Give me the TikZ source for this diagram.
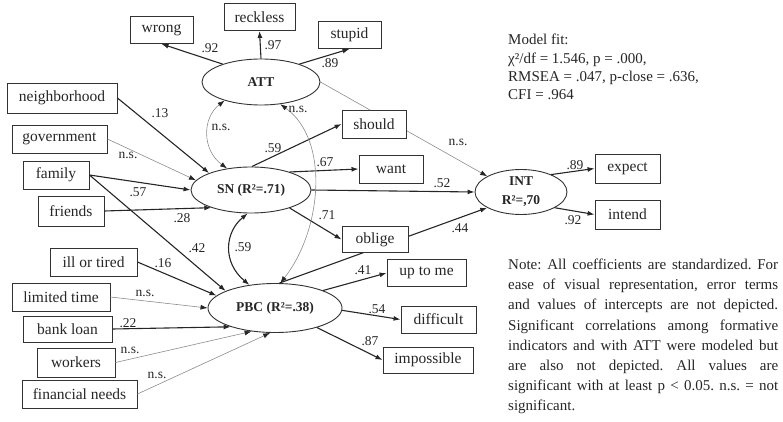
\documentclass[tikz,border=0pt]{standalone}
\usepackage{fontspec}
\setmainfont{Liberation Serif}
\usetikzlibrary{shapes.geometric, arrows.meta, backgrounds}
\frenchspacing

\begin{document}
\begin{tikzpicture}[x=1pt, y=-1pt,
    every node/.style={text=black!85},
    box/.style={rectangle, draw=black!80, fill=white, line width=0.9pt, minimum height=27pt, inner sep=0pt, font=\fontsize{15.5}{17}\selectfont},
    latent/.style={ellipse, draw=black!80, fill=white, line width=0.9pt, inner sep=0pt, align=center, font=\bfseries\fontsize{13.5}{19}\selectfont},
    coef/.style={inner sep=0pt, font=\fontsize{13.5}{15}\selectfont},
    note/.style={inner sep=0pt, font=\fontsize{15}{20.1}\selectfont},
    sig/.style={draw=black!85, line width=1.1pt, -{Latex[length=7pt, width=5pt]}},
    ns/.style={draw=black!45, line width=0.6pt, -{Latex[length=7pt, width=5pt, color=black!85]}},
    sigcorr/.style={draw=black!85, line width=1.1pt, {Latex[length=7pt, width=5pt]}-{Latex[length=7pt, width=5pt]}},
    nscorr/.style={draw=black!45, line width=0.6pt, {Latex[length=7pt, width=5pt, color=black!85]}-{Latex[length=7pt, width=5pt, color=black!85]}}]
    \useasboundingbox (0,0) rectangle (783,422);

    \node (ATT) [latent, minimum width=118pt, minimum height=46pt] at (261,82) {ATT};
    \node (SN) [latent, minimum width=120pt, minimum height=46pt] at (251,190) {SN (R²=.71)};
    \node (PBC) [latent, minimum width=134pt, minimum height=49pt] at (275,308) {PBC (R²=.38)};
    \node (INT) [latent, minimum width=92pt, minimum height=45pt] at (521,192) {INT\\R²=,70};

    \node (wrong) [box, minimum width=63pt] at (161.5,30) {wrong};
    \node (reckless) [box, minimum width=71pt] at (259.5,17) {reckless};
    \node (stupid) [box, minimum width=63pt] at (349.5,35) {stupid};
    \node (neighborhood) [box, minimum width=110pt, minimum height=30pt] at (62,98) {neighborhood};
    \node (government) [box, minimum width=95pt, minimum height=28pt] at (59.5,139) {government};
    \node (family) [box, minimum width=66pt, minimum height=28pt] at (56,175) {family};
    \node (friends) [box, minimum width=66pt, minimum height=30pt] at (71,211) {friends};
    \node (should) [box, minimum width=64pt, minimum height=28pt] at (374,124) {should};
    \node (want) [box, minimum width=64pt, minimum height=28pt] at (391,169) {want};
    \node (oblige) [box, minimum width=66pt, minimum height=26pt] at (375,239.5) {oblige};
    \node (expect) [box, minimum width=65pt, minimum height=29pt] at (627.5,168.5) {expect};
    \node (intend) [box, minimum width=65pt, minimum height=29pt] at (627.5,214.5) {intend};
    \node (illtired) [box, minimum width=87pt, minimum height=28pt] at (93.5,262) {ill or tired};
    \node (limited) [box, minimum width=98pt, minimum height=28pt] at (61,297) {limited time};
    \node (bankloan) [box, minimum width=89pt, minimum height=26pt] at (67.5,329) {bank loan};
    \node (workers) [box, minimum width=78pt, minimum height=29pt] at (76,362.5) {workers};
    \node (financial) [box, minimum width=115pt, minimum height=28pt] at (79.5,394) {financial needs};
    \node (uptome) [box, minimum width=79pt] at (426.5,273) {up to me};
    \node (difficult) [box, minimum width=75pt] at (438.5,319.5) {difficult};
    \node (impossible) [box, minimum width=90pt, minimum height=26pt] at (428,360) {impossible};

    \draw[sig] (ATT.155) -- (wrong.south);
    \draw[sig] (ATT.north) -- (reckless.south);
    \draw[sig] (ATT.25) -- (stupid.south);
    \draw[sig] (neighborhood.east) -- (SN.158);
    \draw[ns] (government.east) -- (SN.170);
    \draw[sig] (family.east) -- (SN.west);
    \draw[sig] (friends.east) -- (SN.204);
    \draw[sig] (family.east) -- (PBC.161);
    \draw[sig] (SN.88) -- (should.west);
    \draw[sig] (SN.25) -- (want.west);
    \draw[sig] (SN.east) -- (INT.west);
    \draw[sig] (SN.-25) -- (oblige.west);
    \begin{scope}[on background layer]
        \draw[ns] (ATT.east) -- (INT.155);
        \draw[sig] (PBC.80) -- (INT.205);
    \end{scope}
    \draw[sig] (INT.30) -- (expect.west);
    \draw[sig] (INT.-25) -- (intend.west);
    \draw[sig] (illtired.east) -- (PBC.168);
    \draw[ns] (limited.east) -- (PBC.west);
    \draw[sig] (bankloan.east) -- (PBC.203);
    \draw[ns] (workers.east) -- (PBC.225);
    \draw[ns] (financial.east) -- (PBC.259);
    \draw[sig] (PBC.20) -- (uptome.west);
    \draw[sig] (PBC.-2) -- (difficult.west);
    \draw[sig] (PBC.-25) -- (impossible.west);

    \draw[nscorr] (ATT.207) .. controls (202,118) and (202,150) .. (SN.138);
    \draw[sigcorr] (SN.262) .. controls (225,232) and (222,262) .. (PBC.138);
    \draw[nscorr] (ATT.-49) .. controls (330,140) and (322,230) .. (PBC.78);

    \node (c-wrong) [coef] at (210,48) {.92};
    \node (c-reckless) [coef] at (273,45) {.97};
    \node (c-stupid) [coef] at (330,63) {.89};
    \node (c-neigh) [coef] at (160,113) {.13};
    \node (c-gov) [coef] at (128,155) {n.s.};
    \node (c-famsn) [coef] at (138,192) {.57};
    \node (c-friends) [coef] at (182,218) {.28};
    \node (c-fampbc) [coef] at (197,248) {.42};
    \node (c-attsn) [coef] at (221,127) {n.s.};
    \node (c-attpbc) [coef] at (298,109) {n.s.};
    \node (c-snpbc) [coef] at (243,247) {.59};
    \node (c-should) [coef] at (273,148) {.59};
    \node (c-want) [coef] at (325,162) {.67};
    \node (c-oblige) [coef] at (327,215) {.71};
    \node (c-snint) [coef] at (442,183) {.52};
    \node (c-attint) [coef] at (458,142) {n.s.};
    \node (c-pbcint) [coef] at (460,228) {.44};
    \node (c-expect) [coef] at (575,165) {.89};
    \node (c-intend) [coef] at (573,220) {.92};
    \node (c-ill) [coef] at (163,263) {.16};
    \node (c-limited) [coef] at (145,293) {n.s.};
    \node (c-bank) [coef] at (128,323) {.22};
    \node (c-workers) [coef] at (130,350) {n.s.};
    \node (c-financial) [coef] at (157,375) {n.s.};
    \node (c-uptome) [coef] at (363,270) {.41};
    \node (c-difficult) [coef] at (377,309) {.54};
    \node (c-impossible) [coef] at (370,341) {.87};

    \node (fit) [note, anchor=north west, align=left, font=\fontsize{15}{18.3}\selectfont] at (508,34) {Model fit:\\χ²/df = 1.546, p = .000,\\RMSEA = .047, p-close = .636,\\CFI = .964};
    \node (remark) [note, anchor=north west, text width=270pt, align=justify] at (508,259) {Note: All coefficients are standardized. For\linebreak ease of visual representation, error terms\linebreak and values of intercepts are not depicted.\linebreak Significant correlations among formative\linebreak indicators and with ATT were modeled but\linebreak are also not depicted. All values are\linebreak significant with at least p < 0.05. n.s. = not\linebreak significant.};
\end{tikzpicture}
\end{document}
